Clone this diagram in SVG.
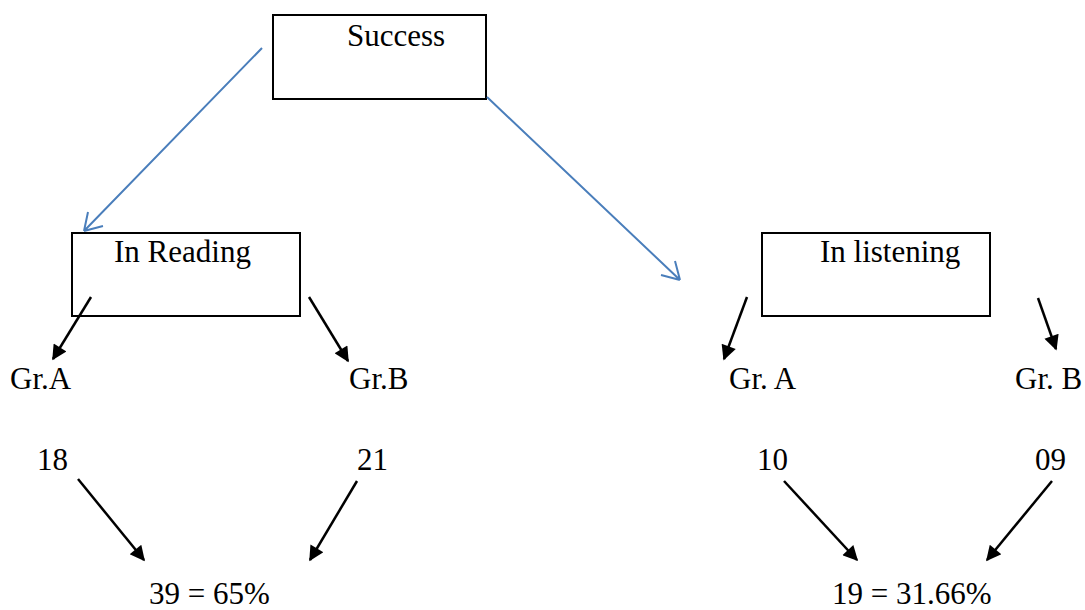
<svg xmlns="http://www.w3.org/2000/svg" width="1085" height="610" viewBox="0 0 1085 610">
<style>
text{font-family:"Liberation Serif","Times New Roman",serif;font-size:31px;fill:#000}
.box{fill:#fff;stroke:#000;stroke-width:2}
.blue{stroke:#4a7ebb;stroke-width:2;fill:none}
.blk{stroke:#000;stroke-width:2.5;fill:none;marker-end:url(#ah)}
</style>
<defs>
<marker id="ah" viewBox="0 0 10 10" refX="9" refY="5" markerWidth="7" markerHeight="6" orient="auto" markerUnits="strokeWidth">
<path d="M0,0 L10,5 L0,10 z" fill="#000"/>
</marker>
</defs>
<rect width="1085" height="610" fill="#fff"/>
<g id="success"><rect class="box" x="273" y="15" width="213" height="84"/><text x="347" y="46">Success</text></g>
<g id="reading"><rect class="box" x="72" y="233" width="228" height="83"/><text x="114" y="262">In Reading</text></g>
<g id="listening"><rect class="box" x="762" y="233" width="228" height="83"/><text x="820" y="262">In listening</text></g>
<g id="grA1"><text x="10" y="389">Gr.A</text></g>
<g id="grB1"><text x="349" y="389">Gr.B</text></g>
<g id="grA2"><text x="729" y="389">Gr. A</text></g>
<g id="grB2"><text x="1015" y="389">Gr. B</text></g>
<g id="n18"><text x="37" y="470">18</text></g>
<g id="n21"><text x="357" y="470">21</text></g>
<g id="n10"><text x="757" y="470">10</text></g>
<g id="n09"><text x="1035" y="470">09</text></g>
<g id="total1"><text x="149" y="604">39 = 65%</text></g>
<g id="total2"><text x="832" y="604">19 = 31.66%</text></g>
<g id="connectors">
<path class="blue" d="M262,48 L84,231 M84,231 L88,212 M84,231 L103,226"/>
<path class="blue" d="M487,97 L680,280 M680,280 L661,275 M680,280 L675,261"/>
<line class="blk" x1="91" y1="297" x2="53" y2="359"/>
<line class="blk" x1="309" y1="297" x2="348" y2="361"/>
<line class="blk" x1="747" y1="297" x2="724" y2="359"/>
<line class="blk" x1="1038" y1="298" x2="1056" y2="349"/>
<line class="blk" x1="78" y1="479" x2="144" y2="560"/>
<line class="blk" x1="357" y1="481" x2="310" y2="560"/>
<line class="blk" x1="784" y1="481" x2="857" y2="560"/>
<line class="blk" x1="1052" y1="481" x2="987" y2="560"/>
</g>
</svg>
